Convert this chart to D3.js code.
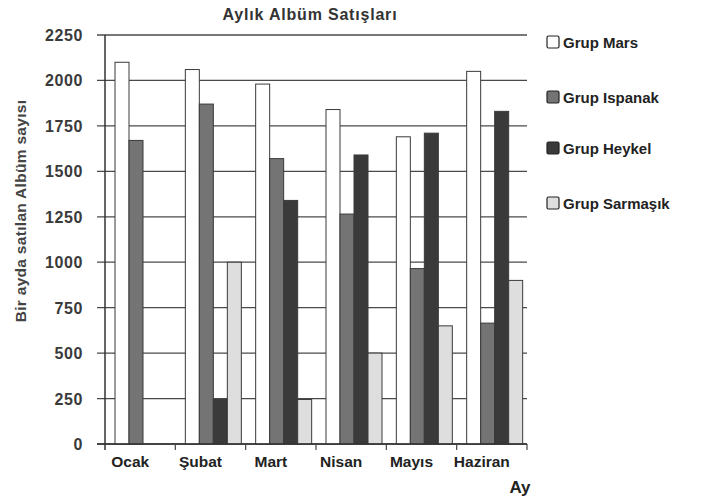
<!DOCTYPE html>
<html>
<head>
<meta charset="utf-8">
<script src="https://cdn.jsdelivr.net/npm/d3@7"></script>
<style>
  body { margin: 0; background: #fff; }
  svg text { font-family: "Liberation Sans", Arial, sans-serif; font-weight: bold; }
</style>
</head>
<body>
<svg id="chart" width="705" height="497"></svg>
<script>
// months and groups
var months = ["Ocak", "Şubat", "Mart", "Nisan", "Mayıs", "Haziran"];
var groups = ["Grup Mars", "Grup Ispanak", "Grup Heykel", "Grup Sarmaşık"];

// sales per group, one value per month
var mars     = [2100, 2060, 1980, 1840, 1690, 2050];
var ispanak  = [1670, 1870, 1570, 1265, 965, 665];
var heykel   = [0, 245, 1340, 1590, 1710, 1830];
var sarmasik = [0, 1000, 245, 500, 650, 900];

var yTicks = [0, 250, 500, 750, 1000, 1250, 1500, 1750, 2000, 2250];
var fills = ["#ffffff", "#747474", "#3a3a3a", "#dedede"];

var drawChart = function(){
	var series = [mars, ispanak, heykel, sarmasik];
	var data = months.map(function(m, i){
		return { month: m, values: series.map(function(s, j){ return { key: groups[j], value: s[i] }; }) };
	});

	var svg = d3.select("#chart");
	var pLeft = 105, pRight = 527, pTop = 35, pBottom = 444;

	var x0 = d3.scaleBand().domain(months).range([pLeft, pRight]).padding(0);
	var x1 = d3.scaleBand().domain(groups).range([10, 66]).padding(0);
	var y = d3.scaleLinear().domain([0, 2250]).range([pBottom, pTop]);

	// gridlines
	svg.append("g").selectAll("line")
		.data(yTicks)
		.enter().append("line")
		.attr("x1", pLeft - 8)
		.attr("x2", pRight)
		.attr("y1", function(d){ return y(d); })
		.attr("y2", function(d){ return y(d); })
		.attr("stroke", "#4a4a4a")
		.attr("stroke-width", 1.3);

	// y axis line
	svg.append("line")
		.attr("x1", pLeft).attr("x2", pLeft)
		.attr("y1", pTop).attr("y2", pBottom + 6)
		.attr("stroke", "#333").attr("stroke-width", 1.5);

	// y tick labels
	svg.append("g").selectAll("text")
		.data(yTicks)
		.enter().append("text")
		.attr("x", 83)
		.attr("y", function(d){ return y(d) + 6; })
		.attr("text-anchor", "end")
		.attr("font-size", 16)
		.attr("letter-spacing", 0.6)
		.attr("fill", "#3a3a3a")
		.text(function(d){ return d; });

	// bars
	var monthG = svg.append("g").selectAll("g")
		.data(data)
		.enter().append("g")
		.attr("transform", function(d){ return "translate(" + x0(d.month) + ",0)"; });

	monthG.selectAll("rect")
		.data(function(d){ return d.values.filter(function(v){ return v.value > 0; }); })
		.enter().append("rect")
		.attr("x", function(d){ return x1(d.key); })
		.attr("width", x1.bandwidth())
		.attr("y", function(d){ return y(d.value); })
		.attr("height", function(d){ return y(0) - y(d.value); })
		.attr("fill", function(d){ return fills[groups.indexOf(d.key)]; })
		.attr("stroke", "#3a3a3a")
		.attr("stroke-width", 1);

	// x axis
	var xAxis = svg.append("g")
		.attr("transform", "translate(0," + pBottom + ")")
		.call(d3.axisBottom(x0).tickSize(0).tickPadding(12));
	xAxis.select(".domain").remove();
	xAxis.selectAll("text")
		.attr("dx", -10)
		.attr("font-size", 15.5)
		.attr("fill", "#222")
		.style("font-family", "Liberation Sans, Arial, sans-serif")
		.style("font-weight", "bold");

	svg.append("line")
		.attr("x1", pLeft - 8).attr("x2", pRight)
		.attr("y1", pBottom).attr("y2", pBottom)
		.attr("stroke", "#333").attr("stroke-width", 1.5);

	svg.append("g").selectAll("line")
		.data(months.slice(1).concat(["end"]))
		.enter().append("line")
		.attr("x1", function(d){ return d === "end" ? pRight : x0(d); })
		.attr("x2", function(d){ return d === "end" ? pRight : x0(d); })
		.attr("y1", pBottom)
		.attr("y2", pBottom + 6)
		.attr("stroke", "#444")
		.attr("stroke-width", 1.2);

	// title and axis titles
	svg.append("text")
		.attr("x", 310).attr("y", 20)
		.attr("text-anchor", "middle")
		.attr("font-size", 16)
		.attr("letter-spacing", 0.8)
		.attr("fill", "#333")
		.text("Aylık Albüm Satışları");

	svg.append("text")
		.attr("transform", "translate(26,211) rotate(-90)")
		.attr("text-anchor", "middle")
		.attr("font-size", 15.5)
		.attr("letter-spacing", 0.3)
		.attr("fill", "#444")
		.text("Bir ayda satılan Albüm sayısı");

	svg.append("text")
		.attr("x", 520).attr("y", 493)
		.attr("text-anchor", "middle")
		.attr("font-size", 17)
		.attr("fill", "#222")
		.text("Ay");

	// legend
	var legendY = [42, 97, 148, 203];
	var legend = svg.append("g").selectAll("g")
		.data(groups)
		.enter().append("g")
		.attr("transform", function(d, i){ return "translate(547," + legendY[i] + ")"; });

	legend.append("rect")
		.attr("x", 0).attr("y", -6)
		.attr("width", 12).attr("height", 12)
		.attr("rx", 1.5)
		.attr("fill", function(d, i){ return fills[i]; })
		.attr("stroke", "#222")
		.attr("stroke-width", 1.2);

	legend.append("text")
		.attr("x", 16).attr("y", 5.5)
		.attr("font-size", 15)
		.attr("fill", "#222")
		.text(function(d){ return d; });
};

drawChart();
</script>
</body>
</html>
